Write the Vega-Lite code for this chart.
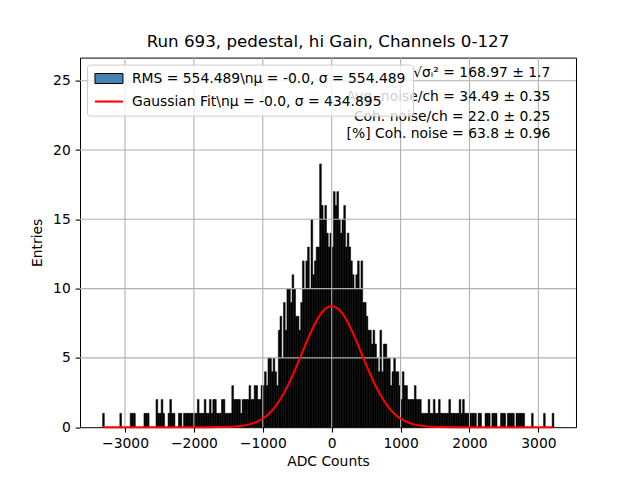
{
  "$schema": "https://vega.github.io/schema/vega-lite/v6.json",
  "width": 496,
  "height": 369.6,
  "autosize": "none",
  "padding": {"left": 80, "top": 57.6, "right": 64, "bottom": 53.2},
  "title": {"text": "Run 693, pedestal, hi Gain, Channels 0-127", "fontSize": 16.7, "fontWeight": "normal", "font": "DejaVu Sans", "color": "black", "offset": 6},
  "datasets": {
    "hist": [
      {"a": -3325, "b": -3300, "n": 1}, {"a": -3075, "b": -3050, "n": 1},
      {"a": -2925, "b": -2900, "n": 1}, {"a": -2900, "b": -2875, "n": 1}, {"a": -2875, "b": -2850, "n": 1},
      {"a": -2725, "b": -2700, "n": 1}, {"a": -2700, "b": -2675, "n": 1}, {"a": -2675, "b": -2650, "n": 1},
      {"a": -2550, "b": -2525, "n": 2}, {"a": -2525, "b": -2500, "n": 1}, {"a": -2500, "b": -2475, "n": 1},
      {"a": -2475, "b": -2450, "n": 2}, {"a": -2450, "b": -2425, "n": 1},
      {"a": -2375, "b": -2350, "n": 1}, {"a": -2350, "b": -2325, "n": 2}, {"a": -2325, "b": -2300, "n": 1},
      {"a": -2300, "b": -2275, "n": 1}, {"a": -2225, "b": -2200, "n": 1}, {"a": -2200, "b": -2175, "n": 1},
      {"a": -2150, "b": -2125, "n": 1}, {"a": -2125, "b": -2100, "n": 1}, {"a": -2100, "b": -2075, "n": 1},
      {"a": -2075, "b": -2050, "n": 1}, {"a": -2050, "b": -2025, "n": 1}, {"a": -2025, "b": -2000, "n": 1},
      {"a": -2000, "b": -1975, "n": 1}, {"a": -1975, "b": -1950, "n": 1}, {"a": -1950, "b": -1925, "n": 2},
      {"a": -1925, "b": -1900, "n": 1}, {"a": -1900, "b": -1875, "n": 1}, {"a": -1875, "b": -1850, "n": 1},
      {"a": -1850, "b": -1825, "n": 2}, {"a": -1825, "b": -1800, "n": 1}, {"a": -1800, "b": -1775, "n": 1},
      {"a": -1775, "b": -1750, "n": 2}, {"a": -1750, "b": -1725, "n": 1}, {"a": -1725, "b": -1700, "n": 2},
      {"a": -1700, "b": -1675, "n": 2}, {"a": -1675, "b": -1650, "n": 1}, {"a": -1650, "b": -1625, "n": 1},
      {"a": -1625, "b": -1600, "n": 1}, {"a": -1600, "b": -1575, "n": 2}, {"a": -1575, "b": -1550, "n": 2},
      {"a": -1550, "b": -1525, "n": 1}, {"a": -1525, "b": -1500, "n": 1}, {"a": -1500, "b": -1475, "n": 1},
      {"a": -1475, "b": -1450, "n": 1}, {"a": -1450, "b": -1425, "n": 3}, {"a": -1425, "b": -1400, "n": 2},
      {"a": -1400, "b": -1375, "n": 2}, {"a": -1375, "b": -1350, "n": 2}, {"a": -1350, "b": -1325, "n": 2},
      {"a": -1325, "b": -1300, "n": 1}, {"a": -1300, "b": -1275, "n": 2}, {"a": -1275, "b": -1250, "n": 2},
      {"a": -1250, "b": -1225, "n": 2}, {"a": -1225, "b": -1200, "n": 2}, {"a": -1200, "b": -1175, "n": 3},
      {"a": -1175, "b": -1150, "n": 2}, {"a": -1150, "b": -1125, "n": 2}, {"a": -1125, "b": -1100, "n": 3},
      {"a": -1100, "b": -1075, "n": 3}, {"a": -1075, "b": -1050, "n": 2}, {"a": -1050, "b": -1025, "n": 2},
      {"a": -1025, "b": -1000, "n": 3}, {"a": -1000, "b": -975, "n": 3}, {"a": -975, "b": -950, "n": 4},
      {"a": -950, "b": -925, "n": 3}, {"a": -925, "b": -900, "n": 5}, {"a": -900, "b": -875, "n": 5},
      {"a": -875, "b": -850, "n": 4}, {"a": -850, "b": -825, "n": 5}, {"a": -825, "b": -800, "n": 4},
      {"a": -800, "b": -775, "n": 3}, {"a": -775, "b": -750, "n": 7}, {"a": -750, "b": -725, "n": 8},
      {"a": -725, "b": -700, "n": 5}, {"a": -700, "b": -675, "n": 9}, {"a": -675, "b": -650, "n": 7},
      {"a": -650, "b": -625, "n": 10}, {"a": -625, "b": -600, "n": 10}, {"a": -600, "b": -575, "n": 9},
      {"a": -575, "b": -550, "n": 11}, {"a": -550, "b": -525, "n": 10}, {"a": -525, "b": -500, "n": 8},
      {"a": -500, "b": -475, "n": 8}, {"a": -475, "b": -450, "n": 7}, {"a": -450, "b": -425, "n": 9},
      {"a": -425, "b": -400, "n": 12}, {"a": -400, "b": -375, "n": 10}, {"a": -375, "b": -350, "n": 12},
      {"a": -350, "b": -325, "n": 13}, {"a": -325, "b": -300, "n": 10}, {"a": -300, "b": -275, "n": 15},
      {"a": -275, "b": -250, "n": 11}, {"a": -250, "b": -225, "n": 12}, {"a": -225, "b": -200, "n": 13},
      {"a": -200, "b": -175, "n": 13}, {"a": -175, "b": -150, "n": 19}, {"a": -150, "b": -125, "n": 16},
      {"a": -125, "b": -100, "n": 15}, {"a": -100, "b": -75, "n": 16}, {"a": -75, "b": -50, "n": 14},
      {"a": -50, "b": -25, "n": 13}, {"a": -25, "b": 0, "n": 14}, {"a": 0, "b": 25, "n": 13},
      {"a": 25, "b": 50, "n": 17}, {"a": 50, "b": 75, "n": 16}, {"a": 75, "b": 100, "n": 17},
      {"a": 100, "b": 125, "n": 15}, {"a": 125, "b": 150, "n": 14}, {"a": 150, "b": 175, "n": 15},
      {"a": 175, "b": 200, "n": 16}, {"a": 200, "b": 225, "n": 13}, {"a": 225, "b": 250, "n": 14},
      {"a": 250, "b": 275, "n": 13}, {"a": 275, "b": 300, "n": 12}, {"a": 300, "b": 325, "n": 11},
      {"a": 325, "b": 350, "n": 10}, {"a": 350, "b": 375, "n": 11}, {"a": 375, "b": 400, "n": 12},
      {"a": 400, "b": 425, "n": 10}, {"a": 425, "b": 450, "n": 12}, {"a": 450, "b": 475, "n": 9},
      {"a": 475, "b": 500, "n": 9}, {"a": 500, "b": 525, "n": 8}, {"a": 525, "b": 550, "n": 7},
      {"a": 550, "b": 575, "n": 7}, {"a": 575, "b": 600, "n": 6}, {"a": 600, "b": 625, "n": 7},
      {"a": 625, "b": 650, "n": 6}, {"a": 650, "b": 675, "n": 5}, {"a": 675, "b": 700, "n": 4},
      {"a": 700, "b": 725, "n": 7}, {"a": 725, "b": 750, "n": 4}, {"a": 750, "b": 775, "n": 6},
      {"a": 775, "b": 800, "n": 6}, {"a": 800, "b": 825, "n": 5}, {"a": 825, "b": 850, "n": 5},
      {"a": 850, "b": 875, "n": 3}, {"a": 875, "b": 900, "n": 4}, {"a": 900, "b": 925, "n": 5},
      {"a": 925, "b": 950, "n": 4}, {"a": 950, "b": 975, "n": 4}, {"a": 975, "b": 1000, "n": 3},
      {"a": 1000, "b": 1025, "n": 2}, {"a": 1025, "b": 1050, "n": 4}, {"a": 1050, "b": 1075, "n": 3},
      {"a": 1075, "b": 1100, "n": 3}, {"a": 1100, "b": 1125, "n": 2}, {"a": 1125, "b": 1150, "n": 2},
      {"a": 1150, "b": 1175, "n": 2}, {"a": 1175, "b": 1200, "n": 2}, {"a": 1200, "b": 1225, "n": 3},
      {"a": 1225, "b": 1250, "n": 2}, {"a": 1250, "b": 1275, "n": 2}, {"a": 1275, "b": 1300, "n": 2},
      {"a": 1300, "b": 1325, "n": 1}, {"a": 1325, "b": 1350, "n": 1}, {"a": 1350, "b": 1375, "n": 1},
      {"a": 1375, "b": 1400, "n": 1}, {"a": 1400, "b": 1425, "n": 2}, {"a": 1425, "b": 1450, "n": 1},
      {"a": 1450, "b": 1475, "n": 1}, {"a": 1475, "b": 1500, "n": 2}, {"a": 1500, "b": 1525, "n": 1},
      {"a": 1525, "b": 1550, "n": 1}, {"a": 1550, "b": 1575, "n": 2}, {"a": 1575, "b": 1600, "n": 1},
      {"a": 1600, "b": 1625, "n": 1}, {"a": 1625, "b": 1650, "n": 1}, {"a": 1650, "b": 1675, "n": 1},
      {"a": 1675, "b": 1700, "n": 1}, {"a": 1700, "b": 1725, "n": 2}, {"a": 1725, "b": 1750, "n": 1},
      {"a": 1750, "b": 1775, "n": 1}, {"a": 1775, "b": 1800, "n": 1}, {"a": 1800, "b": 1825, "n": 1},
      {"a": 1825, "b": 1850, "n": 1}, {"a": 1850, "b": 1875, "n": 2}, {"a": 1875, "b": 1900, "n": 1},
      {"a": 1900, "b": 1925, "n": 2}, {"a": 1925, "b": 1950, "n": 1}, {"a": 1950, "b": 1975, "n": 1},
      {"a": 1975, "b": 2000, "n": 1}, {"a": 2000, "b": 2025, "n": 1}, {"a": 2025, "b": 2050, "n": 1},
      {"a": 2050, "b": 2075, "n": 1}, {"a": 2075, "b": 2100, "n": 1}, {"a": 2125, "b": 2150, "n": 1},
      {"a": 2150, "b": 2175, "n": 1}, {"a": 2225, "b": 2250, "n": 1}, {"a": 2250, "b": 2275, "n": 1},
      {"a": 2275, "b": 2300, "n": 1}, {"a": 2325, "b": 2350, "n": 1}, {"a": 2350, "b": 2375, "n": 1},
      {"a": 2375, "b": 2400, "n": 1}, {"a": 2450, "b": 2475, "n": 1}, {"a": 2475, "b": 2500, "n": 1},
      {"a": 2500, "b": 2525, "n": 1}, {"a": 2550, "b": 2575, "n": 1}, {"a": 2575, "b": 2600, "n": 1},
      {"a": 2600, "b": 2625, "n": 1}, {"a": 2625, "b": 2650, "n": 1}, {"a": 2675, "b": 2700, "n": 1},
      {"a": 2700, "b": 2725, "n": 1}, {"a": 2725, "b": 2750, "n": 1}, {"a": 2750, "b": 2775, "n": 1},
      {"a": 2775, "b": 2800, "n": 1}, {"a": 2900, "b": 2925, "n": 1}, {"a": 3075, "b": 3100, "n": 1},
      {"a": 3200, "b": 3225, "n": 1}
    ],
    "gauss": [
      {"x": -3325, "g": 0}, {"x": -2500, "g": 0}, {"x": -2000, "g": 0.0002}, {"x": -1800, "g": 0.0017},
      {"x": -1600, "g": 0.010}, {"x": -1500, "g": 0.023}, {"x": -1400, "g": 0.049}, {"x": -1300, "g": 0.100},
      {"x": -1250, "g": 0.140}, {"x": -1200, "g": 0.194}, {"x": -1150, "g": 0.265}, {"x": -1100, "g": 0.357},
      {"x": -1050, "g": 0.474}, {"x": -1000, "g": 0.62}, {"x": -950, "g": 0.80}, {"x": -900, "g": 1.03},
      {"x": -850, "g": 1.29}, {"x": -800, "g": 1.61}, {"x": -750, "g": 1.98}, {"x": -700, "g": 2.39},
      {"x": -650, "g": 2.86}, {"x": -600, "g": 3.37}, {"x": -550, "g": 3.93}, {"x": -500, "g": 4.51},
      {"x": -450, "g": 5.12}, {"x": -400, "g": 5.73}, {"x": -350, "g": 6.32}, {"x": -300, "g": 6.89},
      {"x": -250, "g": 7.41}, {"x": -200, "g": 7.86}, {"x": -150, "g": 8.24}, {"x": -100, "g": 8.51},
      {"x": -50, "g": 8.68}, {"x": 0, "g": 8.74}, {"x": 50, "g": 8.68}, {"x": 100, "g": 8.51},
      {"x": 150, "g": 8.24}, {"x": 200, "g": 7.86}, {"x": 250, "g": 7.41}, {"x": 300, "g": 6.89},
      {"x": 350, "g": 6.32}, {"x": 400, "g": 5.73}, {"x": 450, "g": 5.12}, {"x": 500, "g": 4.51},
      {"x": 550, "g": 3.93}, {"x": 600, "g": 3.37}, {"x": 650, "g": 2.86}, {"x": 700, "g": 2.39},
      {"x": 750, "g": 1.98}, {"x": 800, "g": 1.61}, {"x": 850, "g": 1.29}, {"x": 900, "g": 1.03},
      {"x": 950, "g": 0.80}, {"x": 1000, "g": 0.62}, {"x": 1050, "g": 0.474}, {"x": 1100, "g": 0.357},
      {"x": 1150, "g": 0.265}, {"x": 1200, "g": 0.194}, {"x": 1250, "g": 0.140}, {"x": 1300, "g": 0.100},
      {"x": 1400, "g": 0.049}, {"x": 1500, "g": 0.023}, {"x": 1600, "g": 0.010}, {"x": 1800, "g": 0.0017},
      {"x": 2000, "g": 0.0002}, {"x": 2500, "g": 0}, {"x": 3210, "g": 0}
    ],
    "notes": [
      {"t": "√σᵢ² = 168.97 ± 1.7", "x": 3174, "y": 25.55},
      {"t": "Avg. noise/ch = 34.49 ± 0.35", "x": 3174, "y": 23.82},
      {"t": "Coh. noise/ch = 22.0 ± 0.25", "x": 3174, "y": 22.38},
      {"t": "[%] Coh. noise = 63.8 ± 0.96", "x": 3174, "y": 21.16}
    ]
  },
  "layer": [
    {
      "data": {"name": "hist"},
      "mark": {"type": "bar", "fill": "black", "stroke": "black", "strokeWidth": 0.5},
      "encoding": {
        "x": {"field": "a", "type": "quantitative", "title": "ADC Counts", "scale": {"domain": [-3653, 3546], "nice": false},
              "axis": {"values": [-3000, -2000, -1000, 0, 1000, 2000, 3000], "format": "d", "titlePadding": 4}},
        "x2": {"field": "b"},
        "y": {"field": "n", "type": "quantitative", "title": "Entries", "scale": {"domain": [0, 26.67], "nice": false},
              "axis": {"values": [0, 5, 10, 15, 20, 25], "format": "d", "titlePadding": 8}},
        "y2": {"datum": 0}
      }
    },
    {
      "data": {"values": [{"g": -3000}, {"g": -2000}, {"g": -1000}, {"g": 0}, {"g": 1000}, {"g": 2000}, {"g": 3000}]},
      "mark": {"type": "rule", "color": "#b0b0b0", "strokeWidth": 1.1},
      "encoding": {
        "x": {"field": "g", "type": "quantitative", "title": "ADC Counts", "scale": {"domain": [-3653, 3546], "nice": false}}
      }
    },
    {
      "data": {"values": [{"h": 5}, {"h": 10}, {"h": 15}, {"h": 20}, {"h": 25}]},
      "mark": {"type": "rule", "color": "#b0b0b0", "strokeWidth": 1.1},
      "encoding": {
        "y": {"field": "h", "type": "quantitative", "title": "Entries", "scale": {"domain": [0, 26.67], "nice": false}}
      }
    },
    {
      "data": {"name": "gauss"},
      "mark": {"type": "line", "strokeWidth": 2.08},
      "encoding": {
        "x": {"field": "x", "type": "quantitative", "title": "ADC Counts", "scale": {"domain": [-3653, 3546], "nice": false}},
        "y": {"field": "g", "type": "quantitative", "title": "Entries", "scale": {"domain": [0, 26.67], "nice": false}},
        "color": {
          "datum": "Gaussian Fit\\nμ = -0.0, σ = 434.895",
          "scale": {"domain": ["RMS = 554.489\\nμ = -0.0, σ = 554.489", "Gaussian Fit\\nμ = -0.0, σ = 434.895"], "range": ["#000000", "#ff0000"]},
          "legend": {
            "title": null,
            "orient": "top-left",
            "offset": 7,
            "padding": 7,
            "fillColor": "rgba(255,255,255,0.8)",
            "strokeColor": "#cccccc",
            "cornerRadius": 3,
            "labelFont": "DejaVu Sans",
            "labelFontSize": 13.9,
            "labelColor": "black",
            "labelLimit": 400,
            "symbolSize": 196,
            "symbolOffset": 8,
            "labelOffset": 16,
            "rowPadding": 8,
            "encode": {
              "symbols": {
                "update": {
                  "shape": {"signal": "datum.index === 0 ? 'M-2,-0.714H2V0.714H-2Z' : 'M-2,0H2'"},
                  "fill": {"signal": "datum.index === 0 ? '#4682b4' : 'transparent'"},
                  "strokeWidth": {"signal": "datum.index === 0 ? 1 : 2.08"},
                  "strokeOpacity": {"value": 1},
                  "opacity": {"value": 1}
                }
              }
            }
          }
        }
      }
    },
    {
      "data": {"name": "notes"},
      "mark": {"type": "text", "align": "right", "baseline": "middle", "fontSize": 13.9, "font": "DejaVu Sans", "color": "black"},
      "encoding": {
        "x": {"field": "x", "type": "quantitative", "title": "ADC Counts", "scale": {"domain": [-3653, 3546], "nice": false}},
        "y": {"field": "y", "type": "quantitative", "title": "Entries", "scale": {"domain": [0, 26.67], "nice": false}},
        "text": {"field": "t"}
      }
    }
  ],
  "config": {
    "font": "DejaVu Sans",
    "background": "white",
    "view": {"stroke": "black", "strokeWidth": 1},
    "axis": {
      "grid": false,
      "domain": false,
      "tickColor": "black",
      "tickSize": 4.9,
      "tickWidth": 1.1,
      "labelFont": "DejaVu Sans",
      "labelFontSize": 13.9,
      "labelColor": "black",
      "labelPadding": 4.9,
      "titleFont": "DejaVu Sans",
      "titleFontSize": 13.9,
      "titleFontWeight": "normal",
      "titleColor": "black"
    }
  }
}
